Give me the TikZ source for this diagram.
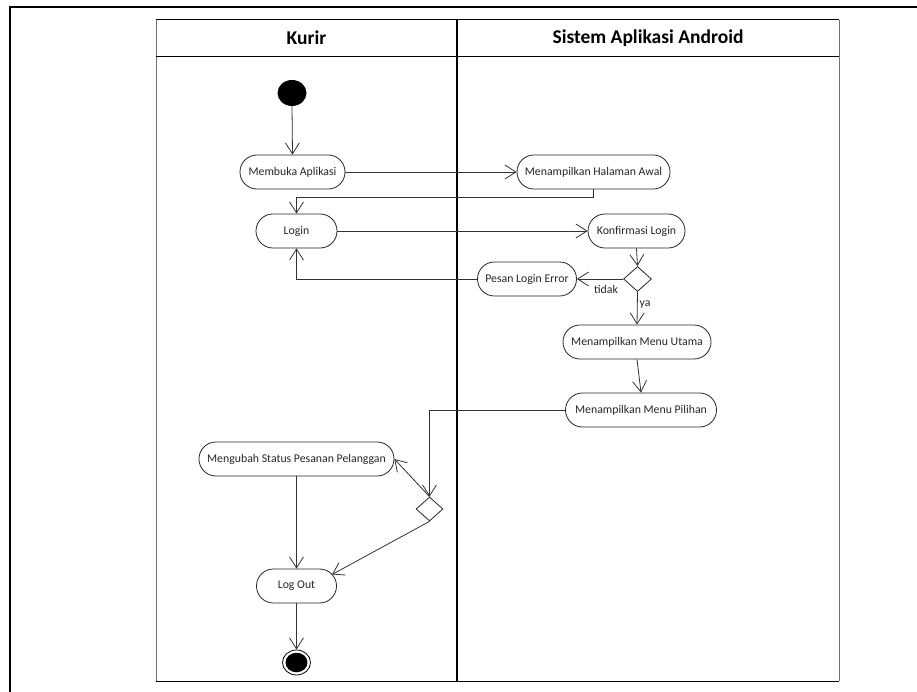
\documentclass[tikz,border=0pt]{standalone}
\usepackage{fontspec}
\setmainfont{Carlito}
\usetikzlibrary{arrows.meta,shapes.geometric,calc}

\tikzset{
  actbox/.style={draw=black!85, line width=0.8pt, rectangle, rounded corners=16.9pt,
    minimum height=34pt, minimum width=#1, inner sep=0pt, text=black!85,
    font=\fontsize{11.8}{14}\selectfont},
  decbox/.style={draw=black!85, line width=0.8pt, diamond, inner sep=0pt,
    minimum width=28pt, minimum height=25pt},
  flow/.style={draw=black!80, line width=0.8pt,
    -{Straight Barb[length=11pt,width=14pt,line width=0.8pt]}},
  guard/.style={inner sep=0pt, text=black!85, font=\fontsize{11.8}{14}\selectfont},
  lanehead/.style={inner sep=0pt, font=\fontsize{19.5}{22}\selectfont\bfseries},
}

\begin{document}
\begin{tikzpicture}[x=1pt,y=-1pt]
\useasboundingbox (0,0) rectangle (917,692);

% outer frame
\draw[line width=2pt] (917,7) -- (10,7) -- (10,692);

% swimlanes
\draw[line width=1pt, black!55] (156,20) -- (156,681);
\draw[line width=1pt, black!55] (839,20) -- (839,681);
\draw[line width=1pt] (156,20) -- (839,20);
\draw[line width=1pt] (156,56.5) -- (839,56.5);
\draw[line width=1pt] (156,681) -- (839,681);
\draw[line width=1.4pt] (457,20) -- (457,681);
\node[lanehead] (hkurir) at (306.5,38) {Kurir};
\node[lanehead] (hsistem) at (648,38) {Sistem Aplikasi Android};

% activities
\node[ellipse, fill=black, minimum width=29pt, minimum height=26pt, inner sep=0pt] (start) at (292,93) {};
\node[actbox=105pt] (membuka) at (292.5,172) {Membuka Aplikasi};
\node[actbox=153pt] (halaman) at (593.5,172) {Menampilkan Halaman Awal};
\node[actbox=81pt] (login) at (296.5,231) {Login};
\node[actbox=97pt] (konf) at (636.5,231) {Konfirmasi Login};
\node[decbox] (dec1) at (637.5,279) {};
\node[actbox=99pt] (pesan) at (527,279) {Pesan Login Error};
\node[actbox=148pt] (utama) at (637,342) {Menampilkan Menu Utama};
\node[actbox=151pt] (pilihan) at (641,410) {Menampilkan Menu Pilihan};
\node[actbox=195pt] (mengubah) at (296.5,459) {Mengubah Status Pesanan Pelanggan};
\node[decbox, minimum width=27pt, minimum height=24pt] (dec2) at (429.5,509) {};
\node[actbox=80pt] (logout) at (296.5,586) {Log Out};
\node[ellipse, draw=black, line width=0.8pt, minimum width=28pt, minimum height=25pt, inner sep=0pt] (finish) at (296.5,662.5) {};
\node[ellipse, fill=black, minimum width=22pt, minimum height=19.5pt, inner sep=0pt] (finishdot) at (finish.center) {};

% guards
\node[guard] (gtidak) at (606,289) {tidak};
\node[guard] (gya) at (645,305) {ya};

% bend points
\coordinate (bend1) at (296.5,197);
\coordinate (logoutne) at ($(logout.center)+(35.5,-11.5)$);

% flows
\draw[flow] (start.south) -- (membuka.north);
\draw[flow] (membuka.east) -- (halaman.west);
\draw[flow] (halaman.south) |- (bend1) -- (login.north);
\draw[flow] (login.east) -- (konf.west);
\draw[flow] (konf.south) -- (dec1.north);
\draw[flow] (dec1.west) -- (pesan.east);
\draw[flow] (pesan.west) -| (login.south);
\draw[flow] (dec1.south) -- (utama.north);
\draw[flow] (utama.south) -- (pilihan.north);
\draw[flow] (pilihan.west) -| (dec2.north);
\draw[flow] (dec2.north) -- (mengubah.east);
\draw[flow] (dec2.south) -- (logoutne);
\draw[flow] (mengubah.south) -- (logout.north);
\draw[flow] (logout.south) -- (finish.north);
\end{tikzpicture}
\end{document}
